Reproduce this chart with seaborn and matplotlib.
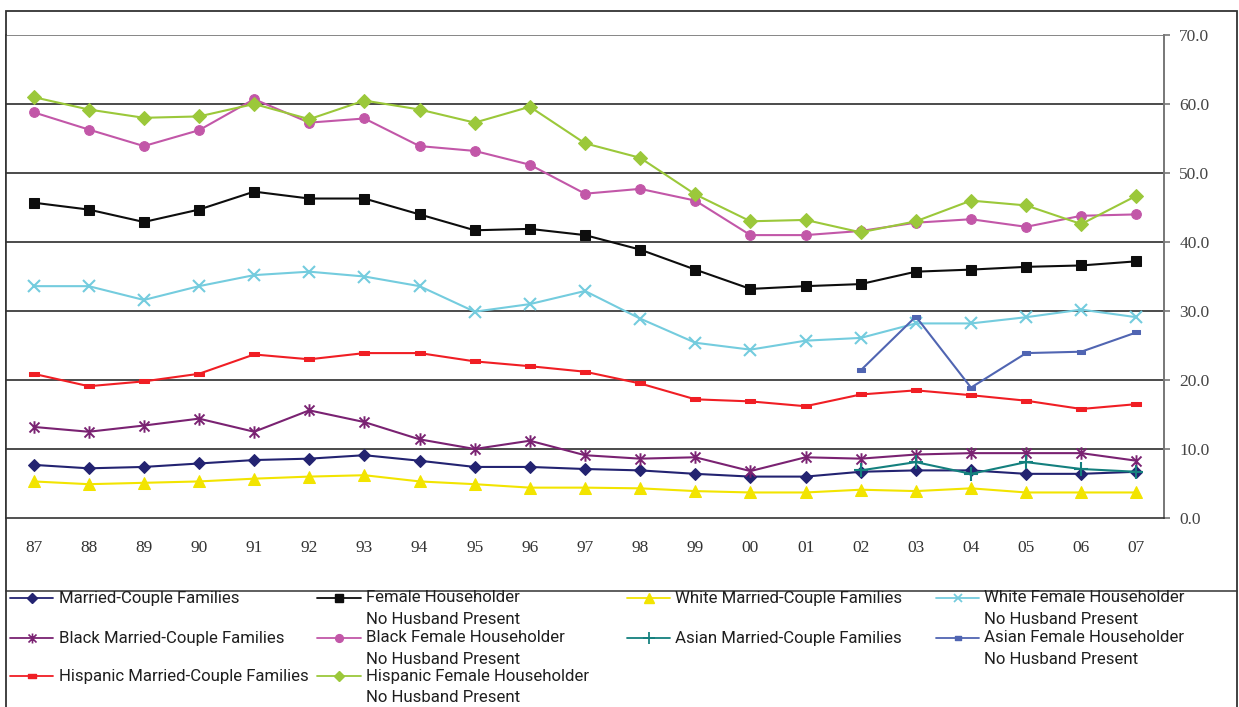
import numpy as np
import pandas as pd
import seaborn as sns
import matplotlib
matplotlib.use("Agg")
import matplotlib.pyplot as plt
from matplotlib.lines import Line2D
from matplotlib.patches import Rectangle
from matplotlib.path import Path

# ---- data -------------------------------------------------------------
years = ["87", "88", "89", "90", "91", "92", "93", "94", "95", "96", "97",
         "98", "99", "00", "01", "02", "03", "04", "05", "06", "07"]

married_couple = [7.7, 7.2, 7.4, 7.9, 8.4, 8.6, 9.1, 8.3, 7.4, 7.4, 7.1,
                  6.9, 6.4, 6.0, 6.0, 6.7, 6.9, 6.9, 6.4, 6.4, 6.7]
female_householder = [45.7, 44.7, 42.9, 44.7, 47.3, 46.3, 46.3, 44.0, 41.7, 41.9, 41.0,
                      38.9, 36.0, 33.2, 33.6, 33.9, 35.7, 36.0, 36.4, 36.6, 37.2]
white_married = [5.3, 4.9, 5.1, 5.3, 5.7, 6.0, 6.2, 5.3, 4.9, 4.4, 4.4,
                 4.3, 3.9, 3.7, 3.7, 4.1, 3.9, 4.3, 3.7, 3.7, 3.7]
white_female = [33.6, 33.6, 31.6, 33.6, 35.2, 35.7, 35.0, 33.6, 29.9, 31.0, 32.9,
                28.9, 25.4, 24.4, 25.7, 26.1, 28.2, 28.2, 29.1, 30.2, 29.1]
black_married = [13.2, 12.5, 13.4, 14.4, 12.5, 15.6, 13.9, 11.4, 10.0, 11.2, 9.1,
                 8.6, 8.8, 6.8, 8.8, 8.6, 9.2, 9.4, 9.4, 9.4, 8.3]
black_female = [58.8, 56.3, 53.9, 56.2, 60.7, 57.3, 57.9, 53.9, 53.2, 51.2, 47.0,
                47.7, 46.0, 41.0, 41.0, 41.6, 42.8, 43.3, 42.2, 43.8, 44.0]
asian_years = ["02", "03", "04", "05", "06", "07"]
asian_married = [6.9, 8.1, 6.4, 8.1, 7.1, 6.7]
asian_female = [21.4, 29.2, 18.9, 23.9, 24.1, 26.9]
hispanic_married = [20.9, 19.1, 19.8, 20.9, 23.7, 23.0, 23.9, 23.9, 22.7, 22.0, 21.2,
                    19.5, 17.2, 16.9, 16.2, 17.9, 18.5, 17.8, 17.0, 15.8, 16.5]
hispanic_female = [61.0, 59.2, 58.0, 58.2, 60.0, 57.8, 60.5, 59.2, 57.3, 59.6, 54.3,
                   52.2, 46.9, 43.0, 43.2, 41.4, 43.0, 46.0, 45.3, 42.6, 46.7]

y_ticks = [0, 10, 20, 30, 40, 50, 60, 70]

# ---- styling ----------------------------------------------------------
sns.set_style("white")
plt.rcParams["font.family"] = ["Liberation Serif", "DejaVu Serif"]

star = Path([(-1, -1), (1, 1), (-1, 1), (1, -1), (0, -1.25), (0, 1.25)],
            [Path.MOVETO, Path.LINETO, Path.MOVETO, Path.LINETO, Path.MOVETO, Path.LINETO])
bar = Path([(-1, -0.5), (1, -0.5), (1, 0.5), (-1, 0.5), (-1, -0.5)],
           [Path.MOVETO, Path.LINETO, Path.LINETO, Path.LINETO, Path.CLOSEPOLY])

pos_all = list(range(len(years)))
pos_asian = [years.index(y) for y in asian_years]

series = [
    ("Married-Couple Families", pos_all, married_couple,
     dict(color="#232371", marker="D", markersize=6)),
    ("Female Householder\nNo Husband Present", pos_all, female_householder,
     dict(color="#0d0d0d", marker="s", markersize=6.5)),
    ("White Married-Couple Families", pos_all, white_married,
     dict(color="#F2E400", marker="^", markersize=8.5)),
    ("White Female Householder\nNo Husband Present", pos_all, white_female,
     dict(color="#74CCDE", marker="x", markersize=8, markeredgewidth=1.5)),
    ("Black Married-Couple Families", pos_all, black_married,
     dict(color="#7A2272", marker=star, markersize=9, markeredgewidth=1.4)),
    ("Black Female Householder\nNo Husband Present", pos_all, black_female,
     dict(color="#C257A8", marker="o", markersize=7)),
    ("Asian Married-Couple Families", pos_asian, asian_married,
     dict(color="#14807E", marker="+", markersize=10, markeredgewidth=1.5)),
    ("Asian Female Householder\nNo Husband Present", pos_asian, asian_female,
     dict(color="#5065B2", marker=bar, markersize=5.5)),
    ("Hispanic Married-Couple Families", pos_all, hispanic_married,
     dict(color="#F01E24", marker=bar, markersize=7)),
    ("Hispanic Female Householder\nNo Husband Present", pos_all, hispanic_female,
     dict(color="#9BC83A", marker="D", markersize=7)),
]

W, H = 1239, 707
fig = plt.figure(figsize=(W / 100, H / 100), dpi=100)

def fx(px):
    return px / W

def fy(py):
    return 1 - py / H

# plot area: x 6..1164 px, y 35..518 px
ax = fig.add_axes([fx(6), fy(518), fx(1164) - fx(6), fy(35) - fy(518)])

for label, xs, ys, style in series:
    df = pd.DataFrame({"pos": xs, "value": ys})
    sns.lineplot(data=df, x="pos", y="value", ax=ax, linewidth=1.5,
                 markeredgecolor=style["color"], zorder=3, **style)

ax.set_xlim(-0.5, len(years) - 0.5)
ax.set_ylim(0, 70)
ax.set_xlabel("")
ax.set_ylabel("")

# horizontal grid
for v in y_ticks[1:]:
    ax.axhline(v, color="#666666" if v == 70 else "#1a1a1a", lw=1.1, zorder=1)

# axes, ticks
ax.spines["top"].set_visible(False)
ax.spines["left"].set_color("#333333")
ax.spines["left"].set_linewidth(1.2)
ax.spines["bottom"].set_color("#333333")
ax.spines["bottom"].set_linewidth(1.2)
ax.spines["right"].set_color("#777777")
ax.spines["right"].set_linewidth(1.4)

ax.yaxis.tick_right()
ax.set_yticks(y_ticks)
ax.set_yticklabels([f"{v:.1f}" for v in y_ticks])
ax.tick_params(axis="y", direction="out", length=4, width=1.2, color="#777777",
               pad=7, labelsize=12.5, labelcolor="#444444")
for t in ax.get_yticklabels():
    t.set_verticalalignment("center_baseline")

ax.set_xticks(pos_all)
ax.set_xticklabels(years)
ax.set_xticks([p + 0.5 for p in range(-1, len(years))], minor=True)
ax.tick_params(axis="x", which="major", length=0, pad=16, labelsize=12.5,
               labelcolor="#333333")
ax.tick_params(axis="x", which="minor", direction="out", length=5, width=1.2,
               color="#333333")

# outer frame and legend separator
fig.add_artist(Rectangle((fx(6), fy(720)), fx(1237) - fx(6), fy(11) - fy(720),
                         transform=fig.transFigure, fill=False,
                         edgecolor="#333333", lw=1.3, zorder=0))
fig.add_artist(Line2D([fx(6), fx(1237)], [fy(591), fy(591)],
                      transform=fig.transFigure, color="#333333", lw=1.1))

# legend
legend_font = ["Roboto", "DejaVu Sans"]
col_x = [(10, 53, 59), (317, 361, 366), (627, 670, 675), (936, 979, 984)]
row_y = [598, 638, 676]
line_gap = 22
for i, (label, xs, ys, style) in enumerate(series):
    r, c = divmod(i, 4)
    x0, x1, xt = col_x[c]
    y = row_y[r]
    mk = {k: v for k, v in style.items() if k != "color"}
    mk["markersize"] = style["markersize"] * 0.8
    if "markeredgewidth" in mk:
        mk["markeredgewidth"] = style["markeredgewidth"] * 0.85
    fig.add_artist(Line2D([fx(x0), fx(x1)], [fy(y), fy(y)], transform=fig.transFigure,
                          color=style["color"], lw=1.3))
    fig.add_artist(Line2D([fx((x0 + x1) / 2)], [fy(y)], transform=fig.transFigure,
                          color=style["color"], markeredgecolor=style["color"],
                          linestyle="none", **mk))
    for k, part in enumerate(label.split("\n")):
        fig.text(fx(xt), fy(y + k * line_gap), part, family=legend_font,
                 fontsize=12.1, color="#1f1f1f", ha="left", va="center")

fig.savefig("out.png", dpi=100, facecolor="white")
